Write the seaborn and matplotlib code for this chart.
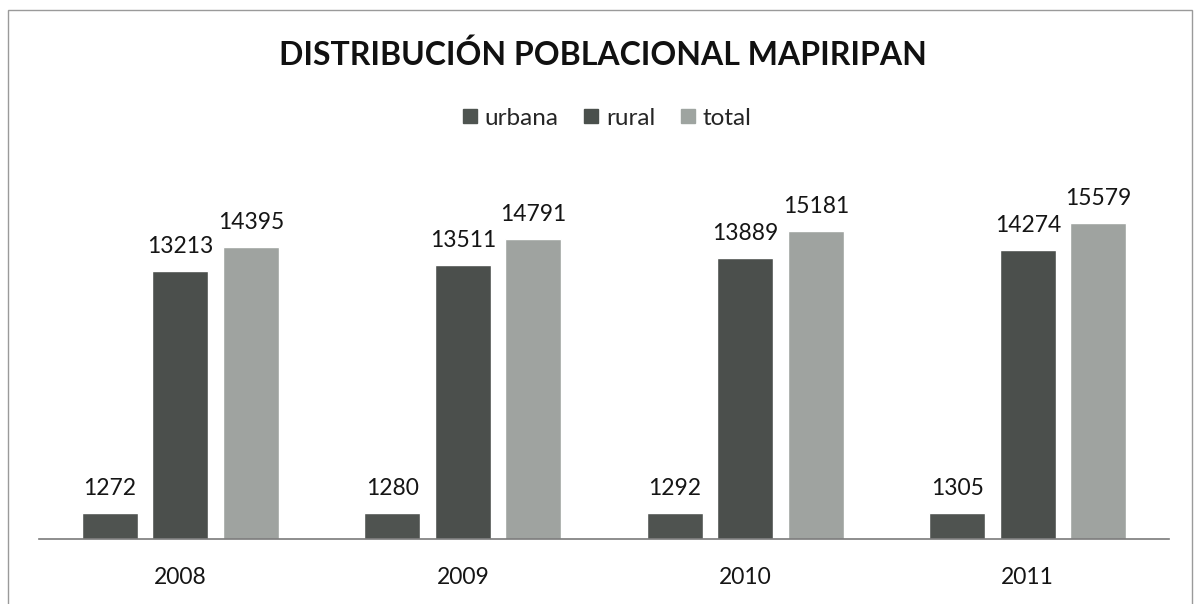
import pandas as pd
import matplotlib.pyplot as plt
import seaborn as sns
from matplotlib.patches import Rectangle
from matplotlib.lines import Line2D

# Data
years = ["2008", "2009", "2010", "2011"]
urbana = [1272, 1280, 1292, 1305]
rural = [13213, 13511, 13889, 14274]
total = [14395, 14791, 15181, 15579]
series = ["urbana", "rural", "total"]
colors = ["#4e5450", "#4a504c", "#9ea4a0"]

df = pd.DataFrame({"year": years, "urbana": urbana, "rural": rural, "total": total})
df = df.melt(id_vars="year", var_name="serie", value_name="valor")

sns.set_style("white")
plt.rcParams["font.family"] = ["Lato", "DejaVu Sans"]

fig = plt.figure(figsize=(11.96, 6.04), dpi=100)
ax = fig.add_axes([39 / 1196, 65 / 604, 1130 / 1196, 379 / 604])

sns.barplot(data=df, x="year", y="valor", hue="serie", hue_order=series,
            palette=colors, width=0.75, gap=0.21, ax=ax, legend=False)

for cont in ax.containers:
    ax.bar_label(cont, fmt="%d", padding=10, fontsize=16.5, color="#151515")

ax.set_ylim(0, 18700)
ax.set_xlim(-0.5, 3.5)
ax.set_yticks([])
ax.set_xlabel("")
ax.set_ylabel("")
ax.tick_params(axis="x", length=0, labelsize=16.5, pad=20, colors="#151515")
for s in ["top", "left", "right"]:
    ax.spines[s].set_visible(False)
ax.spines["bottom"].set_color("#7a7a7a")
ax.spines["bottom"].set_linewidth(1.2)

# title and legend
fig.text(603 / 1196, 1 - 55 / 604, "DISTRIBUCIÓN POBLACIONAL MAPIRIPAN", ha="center", va="center",
         fontsize=23, fontweight="bold", color="#111111")
handles = [Line2D([], [], marker="s", color=c, linestyle="", markersize=10) for c in colors]
fig.legend(handles, series, loc="center", bbox_to_anchor=(607 / 1196, 1 - 118 / 604), ncol=3,
           frameon=False, fontsize=17.5, handletextpad=0.3, columnspacing=1.05, handlelength=0.6)

# chart border
fig.patches.append(Rectangle((8 / 1196, -0.05), 1184 / 1196, 1 - 10 / 604 + 0.05,
                             transform=fig.transFigure, fill=False, edgecolor="#9a9a9a",
                             linewidth=1.0))

fig.savefig("out.png", dpi=100)
